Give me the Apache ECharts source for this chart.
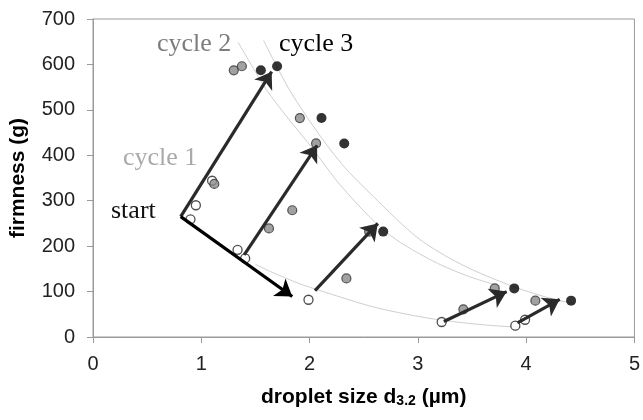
<!DOCTYPE html>
<html>
<head>
<meta charset="utf-8">
<script src="https://cdn.jsdelivr.net/npm/echarts@6/dist/echarts.min.js"></script>
<style>
  html, body { margin: 0; padding: 0; background: #fff; }
  #chart { width: 643px; height: 420px; }
</style>
</head>
<body>
<div id="chart"></div>
<script>
// Droplet size (µm) vs firmness (g) for emulsions over freeze–thaw cycles

// Open circles: start / first cycle
const startPoints = [[0.90, 259], [0.95, 290], [1.10, 344], [1.335, 192], [1.405, 173], [1.99, 82], [3.22, 33], [3.90, 25], [3.99, 38]];
// Grey circles: second cycle
const cycle2Points = [[1.12, 337], [1.30, 587], [1.375, 596], [1.625, 239], [1.84, 279], [1.91, 482], [2.06, 426], [2.34, 129], [2.55, 232], [3.42, 61], [3.71, 107], [4.085, 80]];
// Black circles: third cycle
const cycle3Points = [[1.55, 587], [1.70, 596], [2.11, 482], [2.32, 426], [2.68, 232], [3.89, 107], [4.415, 80]];

// Trend curves traced through each cycle
const curve1 = [[1.5, 160], [1.64, 144], [1.9, 118], [2.1, 102], [2.56, 68], [2.9, 50], [3.22, 37], [3.6, 27], [3.95, 21]];
const curve2 = [[1.34, 649], [1.6, 545], [1.8, 482], [2.01, 420], [2.3, 330], [2.7, 232], [3.1, 172], [3.45, 135], [3.76, 112]];
const curve3 = [[1.575, 653], [1.8, 550], [2.04, 462], [2.3, 380], [2.59, 309], [3.0, 218], [3.4, 160], [3.87, 112], [4.27, 82], [4.45, 74]];

// Arrows: [from, to]
const arrowsUp = [
  [[0.81, 265], [1.65, 584]],
  [[1.396, 181], [2.07, 422]],
  [[2.05, 102], [2.63, 250]],
  [[3.24, 34], [3.82, 100]],
  [[3.92, 31], [4.31, 83]]
];
const arrowsDown = [
  [[0.81, 265], [1.84, 89]]
];

const xTicks = { min: 0, max: 5, interval: 1 };
const yTicks = { min: 0, max: 700, interval: 100 };

const chart = echarts.init(document.getElementById('chart'), null, { renderer: 'canvas' });

const axisColor = '#9a9a9a';
const sansFont = '"Liberation Sans", Arial, sans-serif';
const serifFont = '"Liberation Serif", "Times New Roman", serif';
const curveStyle = { color: '#cfcfcf', width: 1 };

function curveSeries(data) {
  return {
    type: 'line', data: data, smooth: 0.3,
    showSymbol: false, symbol: 'none', lineStyle: curveStyle, z: 1, silent: true
  };
}

function arrowSeries(list, color) {
  return {
    type: 'lines', coordinateSystem: 'cartesian2d', z: 5,
    symbol: ['none', 'arrow'], symbolSize: 16,
    lineStyle: { color: color, width: 3.2, opacity: 1, curveness: 0 },
    data: list.map(a => ({ coords: a })), silent: true
  };
}

chart.setOption({
  animation: false,
  backgroundColor: '#fff',
  grid: { left: 91, right: 6, top: 19, bottom: 83, show: true, borderColor: axisColor, borderWidth: 1 },
  xAxis: {
    type: 'value', min: xTicks.min, max: xTicks.max, interval: xTicks.interval,
    name: '{a|droplet size d}{s|3.2}{a| (µm)}',
    nameLocation: 'middle', nameGap: 45,
    nameTextStyle: {
      rich: {
        a: { fontFamily: sansFont, fontWeight: 'bold', fontSize: 21, color: '#000', lineHeight: 26, verticalAlign: 'bottom' },
        s: { fontFamily: sansFont, fontWeight: 'bold', fontSize: 14, color: '#000', lineHeight: 15, verticalAlign: 'bottom' }
      }
    },
    axisLine: { lineStyle: { color: axisColor, width: 1 } },
    axisTick: { show: true, length: 6, lineStyle: { color: axisColor } },
    axisLabel: { fontFamily: sansFont, fontSize: 20, color: '#222', margin: 17 },
    splitLine: { show: false }
  },
  yAxis: {
    type: 'value', min: yTicks.min, max: yTicks.max, interval: yTicks.interval,
    name: 'firmness (g)', nameLocation: 'middle', nameGap: 64, nameRotate: 90,
    nameTextStyle: { fontFamily: sansFont, fontWeight: 'bold', fontSize: 21, color: '#000' },
    axisLine: { show: true, lineStyle: { color: axisColor, width: 1 } },
    axisTick: { show: true, length: 6, lineStyle: { color: axisColor } },
    axisLabel: { fontFamily: sansFont, fontSize: 20, color: '#222', margin: 18 },
    splitLine: { show: false }
  },
  graphic: [
    { type: 'text', left: 157, top: 31, style: { text: 'cycle 2', font: '26px ' + serifFont, fill: '#7c7c7c' }, z: 10 },
    { type: 'text', left: 279, top: 31, style: { text: 'cycle 3', font: '26px ' + serifFont, fill: '#000' }, z: 10 },
    { type: 'text', left: 123, top: 145, style: { text: 'cycle 1', font: '26px ' + serifFont, fill: '#a9a9a9' }, z: 10 },
    { type: 'text', left: 111, top: 198, style: { text: 'start', font: '26px ' + serifFont, fill: '#111' }, z: 10 }
  ],
  series: [
    curveSeries(curve1),
    curveSeries(curve2),
    curveSeries(curve3),
    {
      type: 'scatter', data: startPoints, symbol: 'circle', symbolSize: 9, z: 3,
      itemStyle: { color: '#fff', borderColor: '#222', borderWidth: 1.3 }
    },
    {
      type: 'scatter', data: cycle2Points, symbol: 'circle', symbolSize: 9, z: 3,
      itemStyle: { color: '#8a8a8a', borderColor: '#333', borderWidth: 1.2 }
    },
    {
      type: 'scatter', data: cycle3Points, symbol: 'circle', symbolSize: 10, z: 3,
      itemStyle: { color: '#000', borderColor: '#000', borderWidth: 0 }
    },
    arrowSeries(arrowsUp, '#2a2a2a'),
    arrowSeries(arrowsDown, '#000')
  ]
});
</script>
</body>
</html>
